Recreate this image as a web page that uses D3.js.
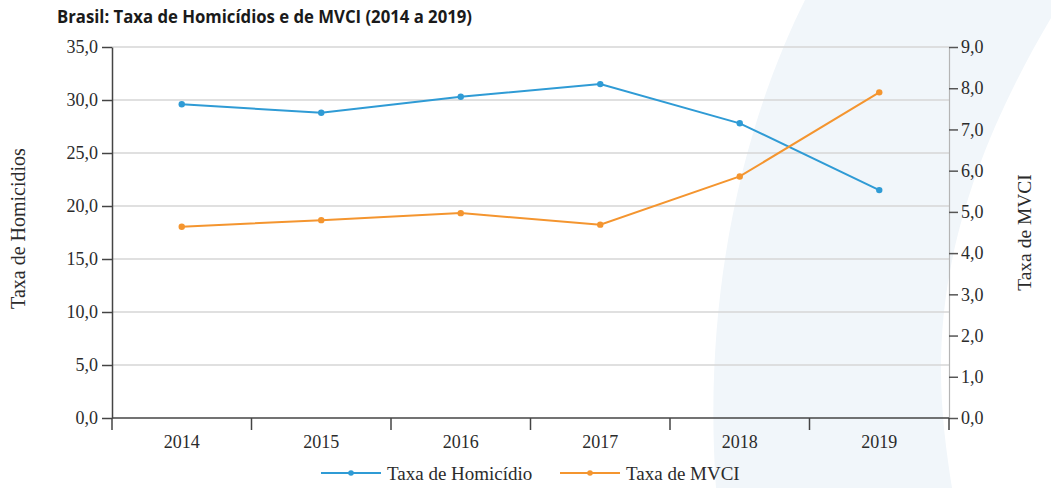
<!DOCTYPE html>
<html>
<head>
<meta charset="utf-8">
<script src="https://cdn.jsdelivr.net/npm/d3@7"></script>
<style>
  body { margin: 0; background: #fff; }
  svg { display: block; }
  .tick text { font-family: "Liberation Serif", "DejaVu Serif", serif; font-size: 18px; fill: #2b2b2b; }
</style>
</head>
<body>
<div id="chart"></div>
<script>
// data
var years = ["2014", "2015", "2016", "2017", "2018", "2019"];
var homicidios = [29.6, 28.8, 30.3, 31.5, 27.8, 21.5];
var mvci = [4.64, 4.80, 4.97, 4.69, 5.86, 7.90];
var leftTicks = [0, 5, 10, 15, 20, 25, 30, 35];
var rightTicks = [0, 1, 2, 3, 4, 5, 6, 7, 8, 9];

var svgWidth = 1051;
var svgHeight = 488;

var margin = { top: 47, bottom: 70, left: 112, right: 102 };
var width = svgWidth - margin.left - margin.right;
var height = svgHeight - margin.top - margin.bottom;

var blue = "#2f9bd5";
var orange = "#f4952f";

var svg = d3.select("#chart")
    .append("svg")
    .attr("width", svgWidth)
    .attr("height", svgHeight);

// light background swoosh
svg.append("path")
    .attr("d", "M805,0 C760,90 700,260 716,488 L952,488 C935,380 920,240 1051,18 L1051,0 Z")
    .attr("fill", "#f1f6fa");

// title
svg.append("text")
    .attr("x", 57)
    .attr("y", 23)
    .attr("textLength", 415)
    .attr("lengthAdjust", "spacingAndGlyphs")
    .style("font-family", "'Liberation Sans Narrow', 'Open Sans', sans-serif")
    .style("font-weight", "bold")
    .style("font-size", "18px")
    .style("fill", "#1a1a1a")
    .text("Brasil: Taxa de Homicídios e de MVCI (2014 a 2019)");

var chartGroup = svg.append("g")
    .attr("transform", `translate(${margin.left}, ${margin.top})`);

// scales
var xScale = d3.scaleBand().domain(years).range([0, width]);
var yLeft = d3.scaleLinear().domain([0, 35]).range([height, 0]);
var yRight = d3.scaleLinear().domain([0, 9]).range([height, 0]);

var fmt = function (d) { return d3.format(".1f")(d).replace(".", ","); };

// gridlines
chartGroup.append("g")
    .selectAll("line")
    .data(leftTicks.filter(d => d > 0))
    .enter()
    .append("line")
    .attr("x1", 0)
    .attr("x2", width)
    .attr("y1", d => yLeft(d))
    .attr("y2", d => yLeft(d))
    .attr("stroke", "#d6d6d6")
    .attr("stroke-width", 1.5);

// right axis
var rightAxis = chartGroup.append("g")
    .attr("transform", `translate(${width}, 0)`)
    .call(d3.axisRight(yRight).tickValues(rightTicks).tickFormat(fmt).tickSize(9).tickSizeOuter(0).tickPadding(3));
rightAxis.select(".domain").attr("stroke", "#b5b5b5").attr("stroke-width", 1.2);
rightAxis.selectAll(".tick line").attr("stroke", "#555").attr("stroke-width", 1.5);

// left axis
var leftAxis = chartGroup.append("g")
    .call(d3.axisLeft(yLeft).tickValues(leftTicks).tickFormat(fmt).tickSize(10).tickSizeOuter(0).tickPadding(4));
leftAxis.select(".domain").attr("stroke", "#444").attr("stroke-width", 1.5);
leftAxis.selectAll(".tick line").attr("stroke", "#444").attr("stroke-width", 1.5);

// x axis: ticks at band boundaries, labels at centers
var xAxis = chartGroup.append("g")
    .attr("transform", `translate(0, ${height})`);
xAxis.append("line")
    .attr("x1", 0).attr("x2", width)
    .attr("stroke", "#444").attr("stroke-width", 1.5);
xAxis.selectAll(".xtick")
    .data(years.concat(["end"]))
    .enter()
    .append("line")
    .attr("class", "xtick")
    .attr("x1", (d, i) => i < years.length ? xScale(d) : width)
    .attr("x2", (d, i) => i < years.length ? xScale(d) : width)
    .attr("y1", 0)
    .attr("y2", 12)
    .attr("stroke", "#444")
    .attr("stroke-width", 1.5);
xAxis.selectAll(".xlabel")
    .data(years)
    .enter()
    .append("text")
    .attr("x", d => xScale(d) + xScale.bandwidth() / 2)
    .attr("y", 30)
    .attr("text-anchor", "middle")
    .style("font-family", "'Liberation Serif', serif")
    .style("font-size", "18px")
    .style("fill", "#2b2b2b")
    .text(d => d);

// axis titles
svg.append("text")
    .attr("transform", `translate(25, ${margin.top + height / 2 - 4}) rotate(-90)`)
    .attr("text-anchor", "middle")
    .style("font-family", "'Liberation Serif', serif")
    .style("font-size", "20px")
    .style("fill", "#2b2b2b")
    .text("Taxa de Homicidios");

svg.append("text")
    .attr("transform", `translate(1031, ${margin.top + height / 2}) rotate(-90)`)
    .attr("text-anchor", "middle")
    .style("font-family", "'Liberation Serif', serif")
    .style("font-size", "19.5px")
    .style("fill", "#2b2b2b")
    .text("Taxa de MVCI");

// lines
var series = [
    { name: "Taxa de Homicídio", values: homicidios, scale: yLeft, color: blue },
    { name: "Taxa de MVCI", values: mvci, scale: yRight, color: orange }
];

series.forEach(function (s) {
    var line = d3.line()
        .x((d, i) => xScale(years[i]) + xScale.bandwidth() / 2)
        .y(d => s.scale(d));

    chartGroup.append("path")
        .datum(s.values)
        .attr("d", line)
        .attr("fill", "none")
        .attr("stroke", s.color)
        .attr("stroke-width", 2);

    chartGroup.selectAll(null)
        .data(s.values)
        .enter()
        .append("circle")
        .attr("cx", (d, i) => xScale(years[i]) + xScale.bandwidth() / 2)
        .attr("cy", d => s.scale(d))
        .attr("r", 3.2)
        .attr("fill", s.color);
});

// legend
var legendX = [321, 560];
var legend = svg.selectAll(".legend")
    .data(series)
    .enter()
    .append("g")
    .attr("transform", (d, i) => `translate(${legendX[i]}, 473)`);
legend.append("line")
    .attr("x1", 0).attr("x2", 60)
    .attr("stroke", d => d.color)
    .attr("stroke-width", 2);
legend.append("circle")
    .attr("cx", 30).attr("r", 2.8)
    .attr("fill", d => d.color);
legend.append("text")
    .attr("x", 66)
    .attr("y", 6.5)
    .style("font-family", "'Liberation Serif', serif")
    .style("font-size", "19px")
    .style("fill", "#2b2b2b")
    .text(d => d.name);
</script>
</body>
</html>
